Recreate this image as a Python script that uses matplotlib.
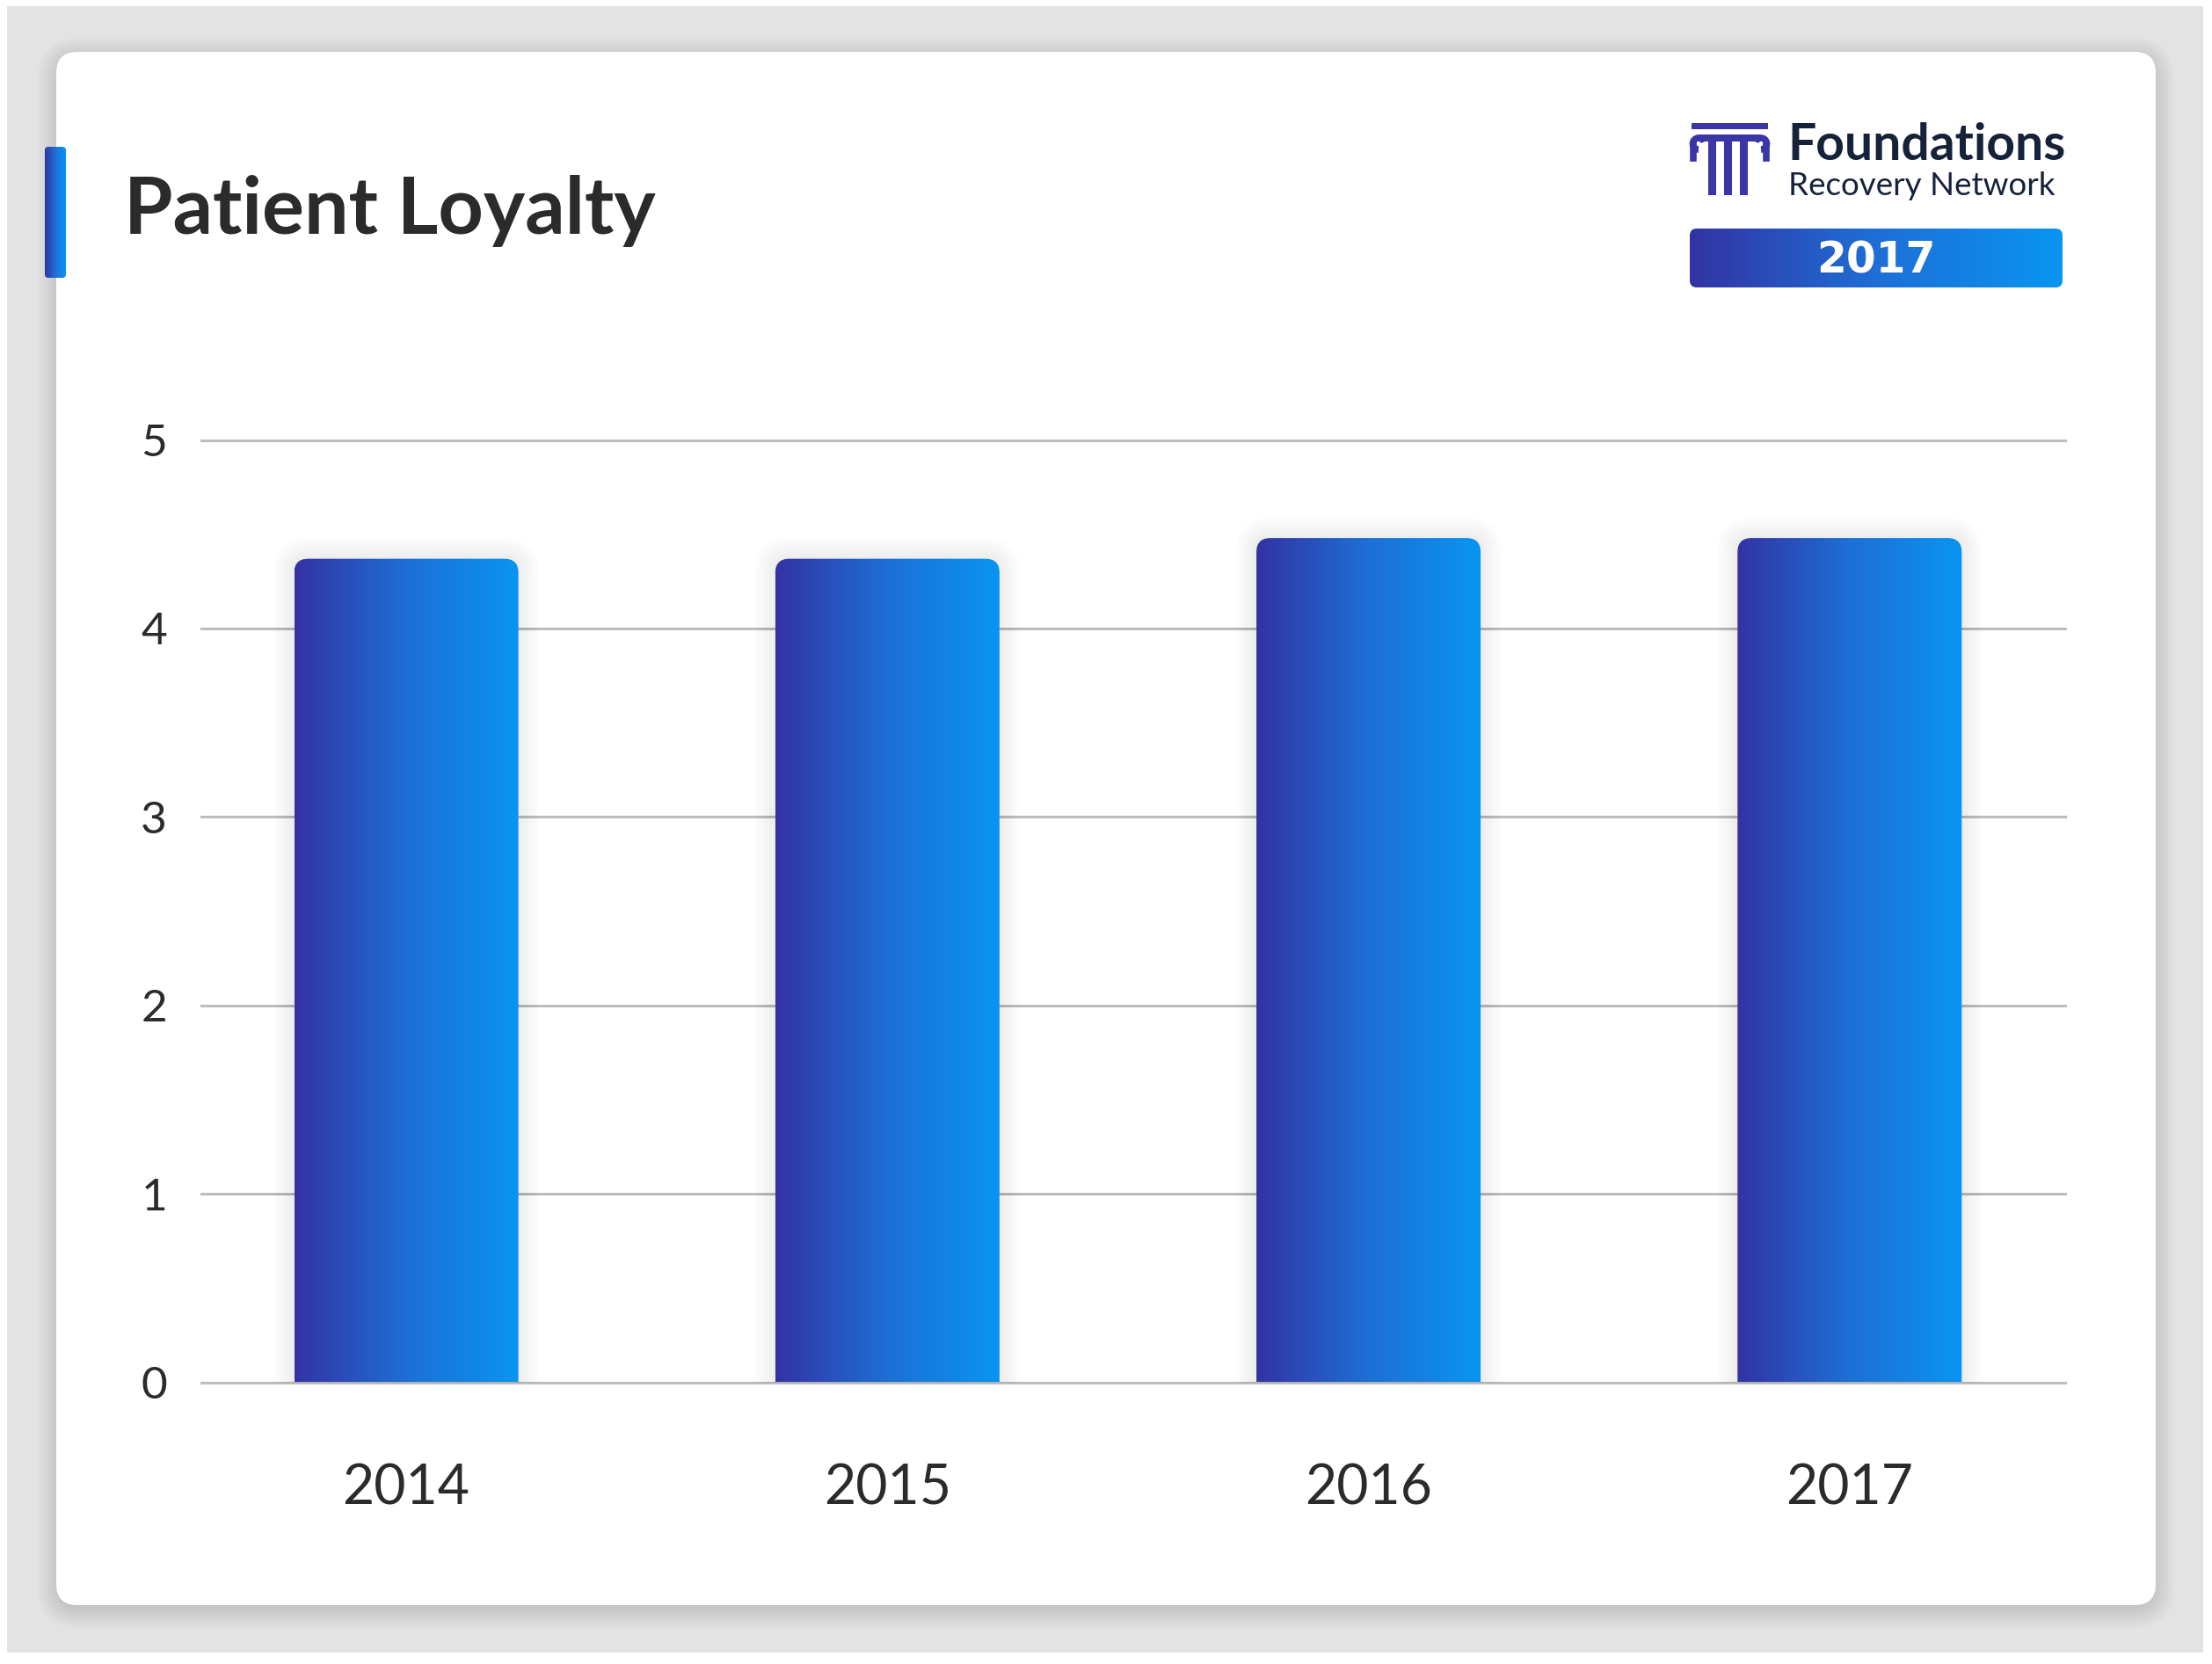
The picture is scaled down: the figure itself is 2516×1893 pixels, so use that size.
import numpy as np
import matplotlib.pyplot as plt
from matplotlib.patches import FancyBboxPatch, Rectangle
from matplotlib.colors import LinearSegmentedColormap

# data
years = ['2014', '2015', '2016', '2017']
loyalty = [4.37, 4.37, 4.48, 4.48]
y_ticks = [0, 1, 2, 3, 4, 5]

W, H = 2516, 1893
DPI = 100
dark = '#2b2b2b'
grad = LinearSegmentedColormap.from_list('fr', ['#3333a3', '#1e6fd6', '#0995f2'])
g = np.linspace(0, 1, 256).reshape(1, -1)

fig = plt.figure(figsize=(W / DPI, H / DPI), dpi=DPI)
fig.patch.set_facecolor('white')

# background in pixel coordinates
bg = fig.add_axes([0, 0, 1, 1], zorder=0)
bg.set_xlim(0, W)
bg.set_ylim(H, 0)
bg.axis('off')

bg.add_patch(Rectangle((8, 7), 2498, 1873, color='#e3e3e3', lw=0))

# soft card shadow
for i in range(10):
    s = 2 + i * 2.5
    bg.add_patch(FancyBboxPatch((64 - s + 3, 59 - s + 8), 2388 + 2 * s - 6, 1767 + 2 * s - 6,
                                boxstyle=f'round,pad=0,rounding_size={24 + s}',
                                fc='black', ec='none', alpha=0.012))
bg.add_patch(FancyBboxPatch((64, 59), 2388, 1767, boxstyle='round,pad=0,rounding_size=24',
                            fc='white', ec='none'))

# accent bar next to title
acc = FancyBboxPatch((51, 167), 24, 149, boxstyle='round,pad=0,rounding_size=4',
                     fc='none', ec='none')
bg.add_patch(acc)
im = bg.imshow(g, cmap=grad, extent=[51, 75, 316, 167], aspect='auto', zorder=2)
im.set_clip_path(acc)

bg.text(141, 266, 'Patient Loyalty', fontsize=64.5, fontweight='bold', color=dark,
        family=['Lato', 'DejaVu Sans'], va='baseline', ha='left')

# logo: column icon
ic = '#3a36a6'
bg.add_patch(Rectangle((1924, 140), 87, 7, color=ic, lw=0))
bg.add_patch(Rectangle((1932, 153), 71, 8, color=ic, lw=0))
for cx in (1947, 1965, 1983):
    bg.add_patch(Rectangle((cx - 4.5, 161), 9, 61, color=ic, lw=0))
t = np.linspace(np.pi * 0.5, np.pi * 1.9, 40)
bg.plot(1932 + 6.5 * np.cos(t), 163.5 + 6.5 * np.sin(t), color=ic, lw=5.5,
        solid_capstyle='butt')
bg.plot(2003 - 6.5 * np.cos(t), 163.5 + 6.5 * np.sin(t), color=ic, lw=5.5,
        solid_capstyle='butt')
bg.plot([1926, 1926], [165, 180], color=ic, lw=5.5)
bg.plot([2009, 2009], [165, 180], color=ic, lw=5.5)

bg.text(2033, 182, 'Foundations', fontsize=41, fontweight='bold', color='#16213a',
        family=['Lato', 'DejaVu Sans'], va='baseline', ha='left')
bg.text(2034, 222, 'Recovery Network', fontsize=26.5, color='#16213a',
        family=['Lato', 'DejaVu Sans'], va='baseline', ha='left')

box = FancyBboxPatch((1922, 260), 424, 67, boxstyle='round,pad=0,rounding_size=8',
                     fc='none', ec='none')
bg.add_patch(box)
im = bg.imshow(g, cmap=grad, extent=[1922, 2346, 327, 260], aspect='auto', zorder=2)
im.set_clip_path(box)
bg.text(2134, 296.5, '2017', fontsize=35, fontweight='bold', color='white',
        family=['DejaVu Sans'], va='center', ha='center', zorder=3)
bg.set_xlim(0, W)
bg.set_ylim(H, 0)

# chart axes
left, right, top, bottom = 229, 2349, 500.6, 1572.5
ax = fig.add_axes([left / W, 1 - bottom / H, (right - left) / W, (bottom - top) / H], zorder=1)
ax.patch.set_alpha(0)
x = np.arange(len(years))
xlim = (-0.426, 3.448)
ylim = (0, 5)
bar_w = 0.466

bars = ax.bar(x, loyalty, width=bar_w, color='none', zorder=3)

px_x = (right - left) / (xlim[1] - xlim[0])
px_y = (bottom - top) / (ylim[1] - ylim[0])
aspect = px_x / px_y
r = 16 / px_x

for b in bars:
    bx, bw, bh = b.get_x(), b.get_width(), b.get_height()
    for k in range(6):
        s = (3 + k * 4) / px_x
        sy = s * aspect
        ax.add_patch(FancyBboxPatch((bx - s, -0.2), bw + 2 * s, bh + 0.2 + sy,
                                    boxstyle=f'round,pad=0,rounding_size={r + s}',
                                    mutation_aspect=aspect, fc='black', ec='none',
                                    alpha=0.010, zorder=2))
    p = FancyBboxPatch((bx, -0.2), bw, bh + 0.2, boxstyle=f'round,pad=0,rounding_size={r}',
                       mutation_aspect=aspect, fc='none', ec='none', zorder=3)
    ax.add_patch(p)
    im = ax.imshow(g, cmap=grad, extent=[bx, bx + bw, 0, bh], aspect='auto', zorder=3)
    im.set_clip_path(p)

ax.set_xlim(*xlim)
ax.set_ylim(*ylim)
ax.set_yticks(y_ticks)
ax.set_yticklabels([str(v) for v in y_ticks])
ax.set_xticks(x)
ax.set_xticklabels(years)
ax.yaxis.grid(True, color='#bdbdbd', linewidth=2.2)
ax.set_axisbelow(True)
for line in ax.get_ygridlines():
    line.set_clip_on(False)
for s in ax.spines.values():
    s.set_visible(False)
ax.tick_params(axis='y', length=0, pad=28, labelsize=37, labelcolor=dark)
ax.tick_params(axis='x', length=0, pad=66, labelsize=45, labelcolor=dark)
for lab in ax.get_xticklabels() + ax.get_yticklabels():
    lab.set_family(['Lato', 'DejaVu Sans'])

fig.savefig('out.png', dpi=DPI)
